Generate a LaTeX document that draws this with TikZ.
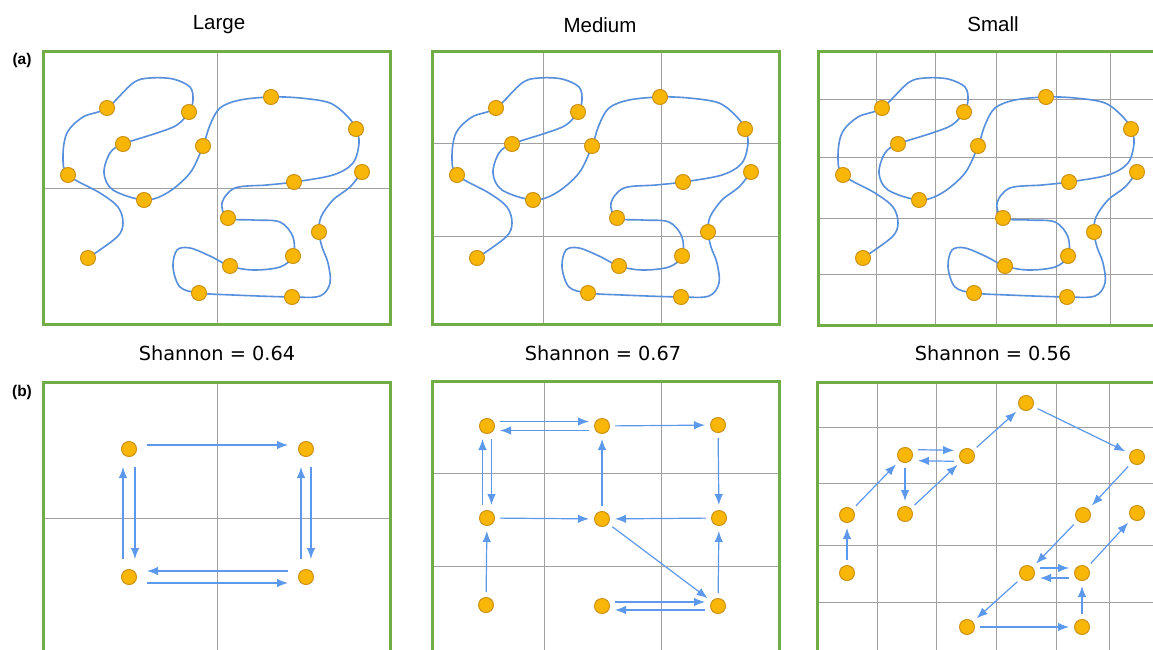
\documentclass[tikz,border=0pt]{standalone}
\usepackage{fontspec}
\setmainfont{Liberation Sans}
\newfontfamily\dejavu{DejaVu Sans}
\usetikzlibrary{calc,arrows.meta}

\definecolor{framegreen}{RGB}{112,173,71}
\definecolor{dotfill}{RGB}{248,183,8}
\definecolor{dotedge}{RGB}{205,145,20}
\definecolor{trailblue}{RGB}{88,143,220}
\definecolor{moveblue}{RGB}{92,152,236}
\definecolor{gridgray}{RGB}{160,160,160}

\tikzset{
  frame/.style={draw=framegreen, line width=3pt},
  gridline/.style={draw=gridgray, line width=1pt},
  dot/.style={circle, fill=dotfill, draw=dotedge, line width=1pt, minimum size=15pt, inner sep=0pt},
  trail/.style={draw=trailblue, line width=1.6pt},
  move/.style={draw=moveblue, line width=1.2pt, -{Latex[length=11pt,width=8.5pt]}, shorten <=13pt, shorten >=13pt},
  heading/.style={font=\fontsize{20.5}{24}\selectfont},
  score/.style={font=\dejavu\fontsize{19.3}{23}\selectfont},
  panel/.style={font=\bfseries\fontsize{15.5}{18}\selectfont},
}

% movement arrow between two cells, #1 = sideways offset
\newcommand{\mv}[3][0pt]{\draw[move] ($(#2)!#1!90:(#3)$) -- ($(#3)!#1!-90:(#2)$);}

% the same track, drawn in every top panel
\newcommand{\trail}[1]{%
  \draw[trail] plot[smooth, tension=0.55] coordinates {
    (88,258) (117,237) (123,223) (118,207) (100,193) (68,175) (63,157) (67,133)
    (83,117) (107,108) (133,83) (150,78) (173,79) (190,87) (193,100) (189,112)
    (177,125) (157,133) (123,144) (110,153) (104,173) (113,190) (144,200) (167,193)
    (190,173) (203,146) (210,125) (220,108) (240,100) (271,97) (300,98) (330,103)
    (348,117) (356,129) (359,143) (353,163) (333,175) (294,182) (267,185) (235,188)
    (222,203) (228,218) (253,220) (280,222) (293,237) (293,256) (280,267) (253,270)
    (230,266) (210,256) (190,248) (177,250) (173,267) (180,287) (199,293) (233,295)
    (292,297) (320,296) (330,283) (328,263) (322,247) (319,232) (321,217) (333,200)
    (350,187) (362,172)};
  \foreach \x/\y [count=\i] in {88/258, 68/175, 107/108, 189/112, 123/144, 144/200,
      203/146, 271/97, 356/129, 294/182, 228/218, 293/256, 230/266, 199/293, 292/297,
      319/232, 362/172}
    {\node[dot] (#1\i) at (\x,\y) {};}
}

\begin{document}
\begin{tikzpicture}[x=1pt, y=-1pt]
  \clip (0,0) rectangle (1153,650);
  \fill[white] (0,0) rectangle (1153,650);

  % Headings
  \node[heading] (tl) at (219,25) {Large};
  \node[heading] (tm) at (600,25) {Medium};
  \node[heading] (ts) at (993,24) {Small};
  \node[score] (hl) at (217,353) {Shannon = 0.64};
  \node[score] (hm) at (603,353) {Shannon = 0.67};
  \node[score] (hs) at (993,353) {Shannon = 0.56};
  \node[panel] (pa) at (22,60) {(a)};
  \node[panel] (pb) at (22,392) {(b)};

  % Grids, row (a)
  \draw[gridline] (217,52) -- (217,324) (43,188) -- (390,188);
  \foreach \x in {543,661} \draw[gridline] (\x,52) -- (\x,324);
  \foreach \y in {143,236} \draw[gridline] (432,\y) -- (779,\y);
  \foreach \x in {876,935,996,1056,1110} \draw[gridline] (\x,52) -- (\x,325);
  \foreach \y in {100,157,218,274} \draw[gridline] (818,\y) -- (1165,\y);

  % Grids, row (b)
  \draw[gridline] (217,382) -- (217,654) (43,518) -- (390,518);
  \foreach \x in {544,661} \draw[gridline] (\x,382) -- (\x,654);
  \foreach \y in {473,566} \draw[gridline] (432,\y) -- (779,\y);
  \foreach \x in {877,936,996,1056,1109} \draw[gridline] (\x,382) -- (\x,654);
  \foreach \y in {427,483,545,602} \draw[gridline] (818,\y) -- (1165,\y);

  % Frames
  \draw[frame] (43,52) rectangle (390,324);
  \draw[frame] (432,52) rectangle (779,324);
  \draw[frame] (818,52) rectangle (1165,325);
  \draw[frame] (43,382) rectangle (390,654);
  \draw[frame] (432,381) rectangle (779,653);
  \draw[frame] (817,382) rectangle (1164,654);

  % Tracks
  \trail{la}
  \begin{scope}[shift={(389,0)}]
    \trail{ma}
  \end{scope}
  \begin{scope}[shift={(775,0)}]
    \trail{sa}
  \end{scope}

  % Large cells
  \node[dot] (L1) at (129,449) {};
  \node[dot] (L2) at (306,449) {};
  \node[dot] (L3) at (129,577) {};
  \node[dot] (L4) at (306,577) {};
  \begin{scope}[move/.append style={shorten <=18pt, shorten >=18pt}]
    \mv[4pt]{L1}{L2}
    \mv[6pt]{L3}{L1} \mv[6pt]{L1}{L3}
    \mv[5pt]{L4}{L2} \mv[5pt]{L2}{L4}
    \mv[-6pt]{L4}{L3} \mv[-6pt]{L3}{L4}
  \end{scope}

  % Medium cells
  \node[dot] (M1) at (487,426) {};
  \node[dot] (M2) at (602,426) {};
  \node[dot] (M3) at (718,425) {};
  \node[dot] (M4) at (487,518) {};
  \node[dot] (M5) at (602,519) {};
  \node[dot] (M6) at (719,518) {};
  \node[dot] (M7) at (486,605) {};
  \node[dot] (M8) at (602,606) {};
  \node[dot] (M9) at (718,606) {};
  \mv[4.5pt]{M1}{M2} \mv[4.5pt]{M2}{M1}
  \mv{M2}{M3}
  \mv{M3}{M6}
  \mv{M6}{M5}
  \mv{M5}{M2}
  \mv[4.5pt]{M4}{M1} \mv[4.5pt]{M1}{M4}
  \mv{M4}{M5}
  \mv{M7}{M4}
  \mv{M5}{M9}
  \mv{M9}{M6}
  \mv[4pt]{M8}{M9} \mv[4pt]{M9}{M8}

  % Small cells
  \node[dot] (S1) at (847,573) {};
  \node[dot] (S2) at (847,515) {};
  \node[dot] (S3) at (905,455) {};
  \node[dot] (S4) at (967,456) {};
  \node[dot] (S5) at (905,514) {};
  \node[dot] (S6) at (1026,403) {};
  \node[dot] (S7) at (1137,457) {};
  \node[dot] (S8) at (1083,515) {};
  \node[dot] (S9) at (1137,513) {};
  \node[dot] (S10) at (1027,573) {};
  \node[dot] (S11) at (1082,573) {};
  \node[dot] (S12) at (967,627) {};
  \node[dot] (S13) at (1082,627) {};
  \mv{S1}{S2}
  \mv{S2}{S3}
  \mv[5.5pt]{S3}{S4} \mv[5.5pt]{S4}{S3}
  \mv{S3}{S5}
  \mv{S5}{S4}
  \mv{S4}{S6}
  \mv{S6}{S7}
  \mv{S7}{S8}
  \mv{S8}{S10}
  \mv[5pt]{S10}{S11} \mv[5pt]{S11}{S10}
  \mv{S10}{S12}
  \mv{S12}{S13}
  \mv{S13}{S11}
  \mv{S11}{S9}
\end{tikzpicture}
\end{document}
